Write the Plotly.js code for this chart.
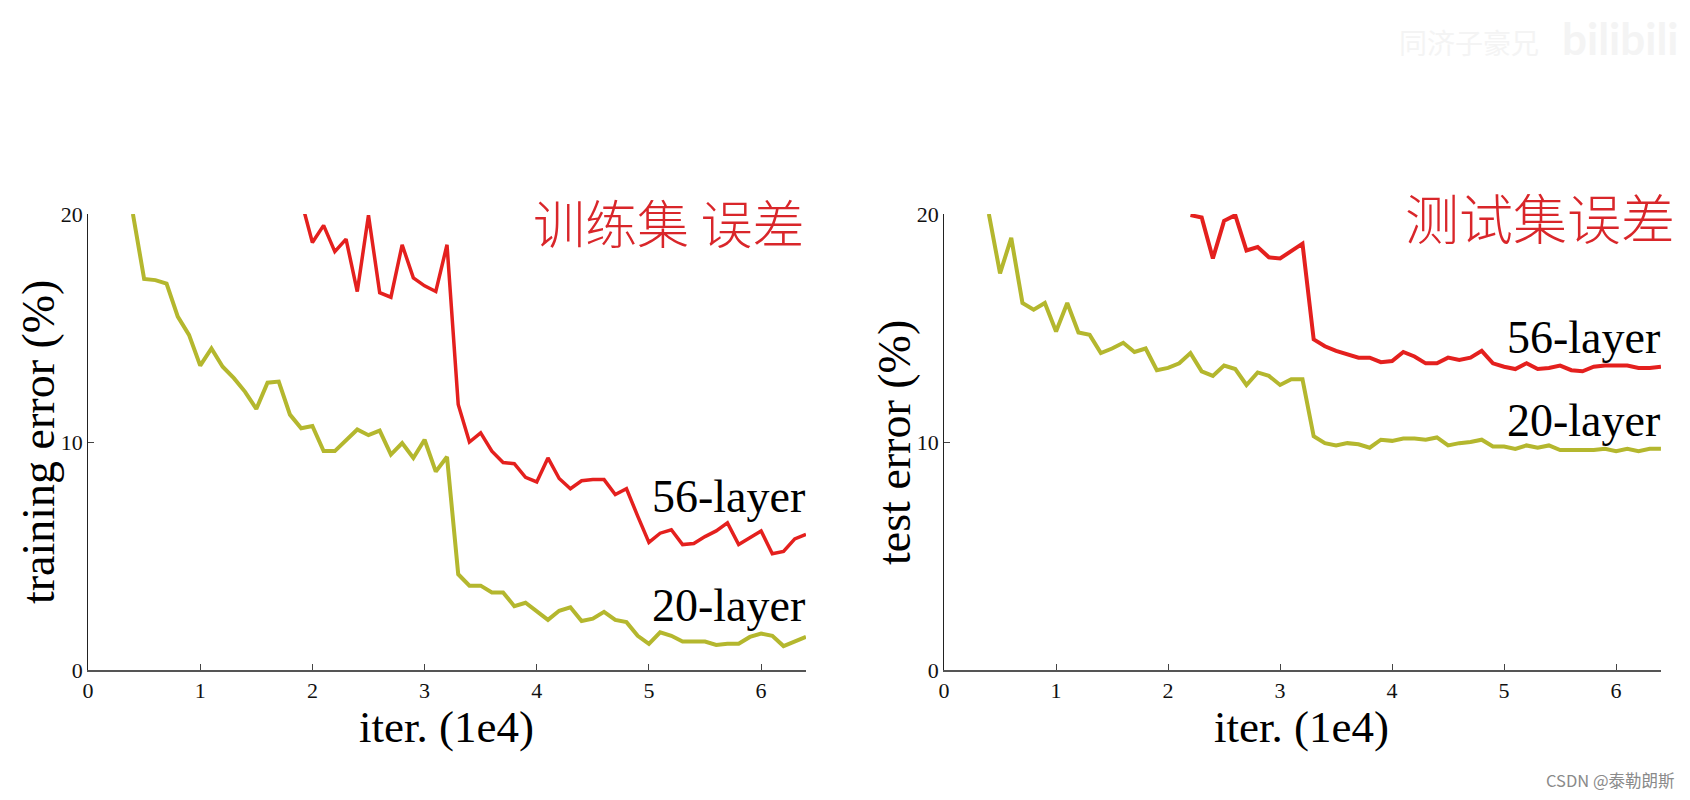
<!DOCTYPE html>
<html>
<head>
<meta charset="utf-8">
<script src="https://cdn.plot.ly/plotly-3.0.1.min.js"></script>
<style>
  html, body { margin: 0; padding: 0; background: #fff; }
  #chart { width: 1690px; height: 800px; }
</style>
</head>
<body>
<div id="chart"></div>
<script>
// iterations in units of 1e4, one point every 1e3
var trainX20 = [0.4,0.5,0.6,0.7,0.8,0.9,1.0,1.1,1.2,1.3,1.4,1.5,1.6,1.7,1.8,1.9,2.0,2.1,2.2,2.3,2.4,2.5,2.6,2.7,2.8,2.9,3.0,3.1,3.2,3.3,3.4,3.5,3.6,3.7,3.8,3.9,4.0,4.1,4.2,4.3,4.4,4.5,4.6,4.7,4.8,4.9,5.0,5.1,5.2,5.3,5.4,5.5,5.6,5.7,5.8,5.9,6.0,6.1,6.2,6.3,6.4];
var trainY20 = [20.0,17.15,17.1,16.95,15.5,14.7,13.35,14.1,13.3,12.8,12.2,11.45,12.6,12.65,11.2,10.6,10.7,9.6,9.6,10.1,10.55,10.3,10.5,9.45,9.95,9.3,10.1,8.7,9.35,4.2,3.7,3.7,3.4,3.4,2.8,2.95,2.6,2.2,2.6,2.75,2.15,2.25,2.55,2.2,2.1,1.5,1.15,1.65,1.5,1.25,1.25,1.25,1.1,1.15,1.15,1.45,1.6,1.5,1.05,1.25,1.45];

var trainX56 = [1.9,2.0,2.1,2.2,2.3,2.4,2.5,2.6,2.7,2.8,2.9,3.0,3.1,3.2,3.3,3.4,3.5,3.6,3.7,3.8,3.9,4.0,4.1,4.2,4.3,4.4,4.5,4.6,4.7,4.8,4.9,5.0,5.1,5.2,5.3,5.4,5.5,5.6,5.7,5.8,5.9,6.0,6.1,6.2,6.3,6.4];
var trainY56 = [20.6,18.75,19.5,18.35,18.9,16.6,19.95,16.55,16.35,18.65,17.2,16.85,16.6,18.65,11.65,10.0,10.4,9.6,9.1,9.05,8.45,8.25,9.3,8.4,7.95,8.3,8.35,8.35,7.7,7.95,6.75,5.6,6.0,6.15,5.5,5.55,5.85,6.1,6.45,5.5,5.8,6.1,5.1,5.2,5.75,5.95];

var testX20 = [0.4,0.5,0.6,0.7,0.8,0.9,1.0,1.1,1.2,1.3,1.4,1.5,1.6,1.7,1.8,1.9,2.0,2.1,2.2,2.3,2.4,2.5,2.6,2.7,2.8,2.9,3.0,3.1,3.2,3.3,3.4,3.5,3.6,3.7,3.8,3.9,4.0,4.1,4.2,4.3,4.4,4.5,4.6,4.7,4.8,4.9,5.0,5.1,5.2,5.3,5.4,5.5,5.6,5.7,5.8,5.9,6.0,6.1,6.2,6.3,6.4];
var testY20 = [20.0,17.4,18.95,16.1,15.8,16.1,14.85,16.1,14.8,14.7,13.9,14.1,14.35,13.95,14.1,13.15,13.25,13.45,13.9,13.1,12.9,13.35,13.2,12.5,13.05,12.9,12.5,12.75,12.75,10.25,9.95,9.85,9.95,9.9,9.75,10.1,10.05,10.15,10.15,10.1,10.2,9.85,9.95,10.0,10.1,9.8,9.8,9.7,9.85,9.75,9.85,9.65,9.65,9.65,9.65,9.7,9.6,9.7,9.6,9.7,9.7];

var testX56 = [2.2,2.3,2.4,2.5,2.6,2.7,2.8,2.9,3.0,3.1,3.2,3.3,3.4,3.5,3.6,3.7,3.8,3.9,4.0,4.1,4.2,4.3,4.4,4.5,4.6,4.7,4.8,4.9,5.0,5.1,5.2,5.3,5.4,5.5,5.6,5.7,5.8,5.9,6.0,6.1,6.2,6.3,6.4];
var testY56 = [19.95,19.85,18.05,19.7,19.95,18.4,18.55,18.1,18.05,18.35,18.7,14.5,14.2,14.0,13.85,13.7,13.7,13.5,13.55,13.95,13.75,13.45,13.45,13.7,13.6,13.7,14.0,13.45,13.3,13.2,13.45,13.2,13.25,13.35,13.15,13.1,13.3,13.35,13.35,13.35,13.25,13.25,13.3];

var xTicks = [0, 1, 2, 3, 4, 5, 6];
var yTicks = [0, 10, 20];

var red = '#e4201e';
var olive = '#b4b72e';
var serif = 'Liberation Serif, Times New Roman, serif';
var big = {family: serif, size: 46, color: '#000'};

var traces = [
  {x: trainX20, y: trainY20, xaxis: 'x', yaxis: 'y', type: 'scatter', mode: 'lines', line: {color: olive, width: 4}},
  {x: trainX56, y: trainY56, xaxis: 'x', yaxis: 'y', type: 'scatter', mode: 'lines', line: {color: red, width: 3.5}},
  {x: testX20, y: testY20, xaxis: 'x2', yaxis: 'y2', type: 'scatter', mode: 'lines', line: {color: olive, width: 4}},
  {x: testX56, y: testY56, xaxis: 'x2', yaxis: 'y2', type: 'scatter', mode: 'lines', line: {color: red, width: 4}}
];

function xAxis(domain, anchor) {
  return {
    domain: domain, anchor: anchor, range: [0, 6.4],
    tickvals: xTicks, ticks: 'inside', ticklen: 6, tickcolor: '#444',
    showline: true, linecolor: '#555', linewidth: 2,
    showgrid: false, zeroline: false,
    tickfont: {family: serif, size: 22, color: '#111'}
  };
}

function yAxis(domain, anchor) {
  return {
    domain: domain, anchor: anchor, range: [0, 20],
    tickvals: yTicks, ticks: 'inside', ticklen: 6, tickcolor: '#444',
    showline: true, linecolor: '#222', linewidth: 1,
    showgrid: false, zeroline: false,
    tickfont: {family: serif, size: 22, color: '#111'}
  };
}

function note(xref, yref, x, y, text, font, xanchor, angle) {
  return {xref: xref, yref: yref, x: x, y: y, text: text, font: font, showarrow: false,
          xanchor: xanchor || 'center', yanchor: 'middle', textangle: angle || 0, borderpad: 0};
}

var layout = {
  width: 1690, height: 800,
  margin: {l: 0, r: 0, t: 0, b: 0},
  paper_bgcolor: '#fff', plot_bgcolor: '#fff',
  showlegend: false,
  xaxis: xAxis([0.0521, 0.4769], 'y'),
  yaxis: yAxis([0.1625, 0.7325], 'x'),
  xaxis2: xAxis([0.5586, 0.9828], 'y2'),
  yaxis2: yAxis([0.1625, 0.7325], 'x2'),
  annotations: [
    // axis titles
    note('paper', 'paper', 446 / 1690, 1 - 727 / 800, 'iter. (1e4)', {family: serif, size: 45, color: '#000'}),
    note('paper', 'paper', 1301 / 1690, 1 - 727 / 800, 'iter. (1e4)', {family: serif, size: 45, color: '#000'}),
    note('paper', 'paper', 38 / 1690, 1 - 442 / 800, 'training error (%)', big, 'center', -90),
    note('paper', 'paper', 894 / 1690, 1 - 442 / 800, 'test error (%)', big, 'center', -90),
    // series labels
    note('x', 'y', 6.4, 7.6, '56-layer', big, 'right'),
    note('x', 'y', 6.4, 2.85, '20-layer', big, 'right'),
    note('x2', 'y2', 6.4, 14.6, '56-layer', big, 'right'),
    note('x2', 'y2', 6.4, 10.95, '20-layer', big, 'right'),
    // handwritten notes
    note('paper', 'paper', 806 / 1690, 1 - 221 / 800, '训练集 误差',
         {family: 'Noto Sans CJK SC', size: 52, color: '#d9262a', weight: 300}, 'right'),
    note('paper', 'paper', 1676 / 1690, 1 - 216 / 800, '测试集误差',
         {family: 'Noto Sans CJK SC', size: 54, color: '#d9262a', weight: 300}, 'right'),
    // watermarks
    note('paper', 'paper', 1676 / 1690, 1 - 780 / 800, 'CSDN @泰勒朗斯',
         {family: 'Noto Sans CJK SC', size: 16.5, color: '#8a8a8a'}, 'right'),
    note('paper', 'paper', 1540 / 1690, 1 - 42 / 800, '同济子豪兄',
         {family: 'Noto Sans CJK SC', size: 28, color: '#f4f4f4'}, 'right'),
    note('paper', 'paper', 1680 / 1690, 1 - 38 / 800, '<b>bilibili</b>',
         {family: 'Lato', size: 44, color: '#f4f4f4'}, 'right')
  ]
};

Plotly.newPlot('chart', traces, layout, {staticPlot: true});
</script>
</body>
</html>
